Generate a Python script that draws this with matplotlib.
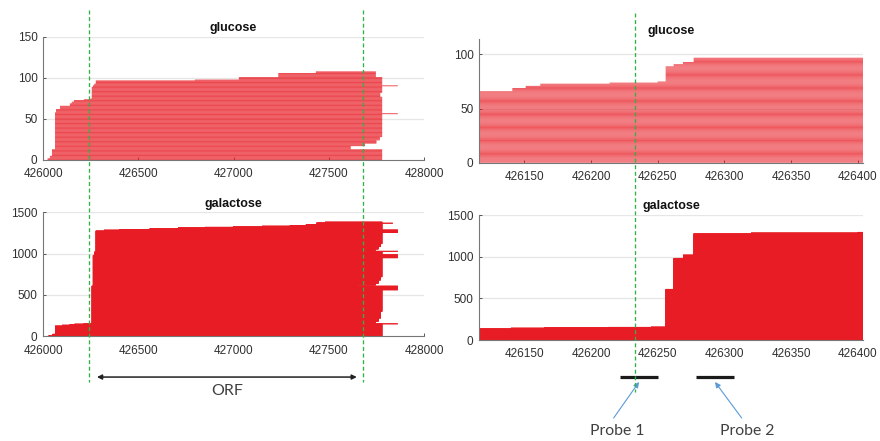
import numpy as np
import matplotlib
matplotlib.use("Agg")
import matplotlib.pyplot as plt
from matplotlib.transforms import blended_transform_factory
from matplotlib.lines import Line2D

plt.rcParams["font.family"] = ["Liberation Sans", "DejaVu Sans"]

# ---- read tracks (reads sorted by start; run-length encoded) ----
# glucose: read start coordinates and how many reads share each
glu_start_pos = [426024, 426036, 426047, 426063, 426068, 426089, 426141, 426151,
                 426162, 426214, 426250, 426256, 426262, 426269, 426277, 426797,
                 427028, 427235, 427432]
glu_start_n = [2, 3, 8, 45, 4, 4, 3, 2, 2, 1, 1, 14, 2, 2, 4, 1, 3, 5, 2]
# glucose: read end coordinates, from the bottom row upwards
glu_end_pos = [427780, 427615, 427690, 427750, 427768, 427780, 427862, 427780,
               427770, 427780, 427862, 427780, 427747]
glu_end_n = [13, 4, 3, 4, 4, 28, 1, 20, 5, 8, 1, 10, 7]

# galactose: read start coordinates and counts
gal_start_pos = [426030, 426050, 426063, 426100, 426140, 426165, 426213, 426245,
                 426256, 426262, 426269, 426277, 426320, 426400, 426560, 426709,
                 426850, 426997, 427150, 427296, 427380, 427436, 427480]
gal_start_n = [10, 15, 100, 10, 8, 5, 4, 4, 452, 372, 40, 255, 10, 7, 10, 11,
               6, 6, 8, 8, 12, 20, 9]
# galactose: read end coordinates, from the bottom row upwards
gal_end_pos = [427780, 427862, 427620, 427745, 427760, 427772, 427780, 427862,
               427650, 427745, 427760, 427772, 427780, 427862, 427780, 427862,
               427620, 427745, 427760, 427772, 427780, 427862, 427780, 427836,
               427780]
gal_end_n = [150, 3, 10, 17, 40, 80, 262, 45, 12, 21, 40, 40, 230, 36, 40, 3,
             10, 16, 30, 35, 135, 31, 80, 3, 13]

# ---- axes ticks ----
wide_xticks = [426000, 426500, 427000, 427500, 428000]
zoom_xticks = [426150, 426200, 426250, 426300, 426350, 426400]
glu_yticks = [0, 50, 100, 150]
glu_zoom_yticks = [0, 50, 100]
gal_yticks = [0, 500, 1000, 1500]

# ---- annotations ----
orf_bounds = [426241, 427679]          # dashed guides, left panels
orf_arrow = [426283, 427647]
tss_guide = 426233                     # dashed guide, right panels
probe_names = ["Probe 1", "Probe 2"]
probe_spans = [[426222, 426250], [426279, 426307]]
probe_tips = [426236, 426293]
probe_tails = [426217, 426313]
probe_label_x = [426220, 426317]

READ_RED = "#e81c24"
GUIDE_GREEN = "#2fb344"


def expand(start_pos, start_n, end_pos, end_n):
    starts = np.repeat(start_pos, start_n)
    ends = np.repeat(end_pos, end_n)
    n = min(len(starts), len(ends))
    y = np.arange(n) + 0.5
    return y, starts[:n], ends[:n]


def style(ax, xlim, xticks, ylim, yticks, title):
    ax.set_xlim(*xlim)
    ax.set_ylim(*ylim)
    ax.set_xticks(xticks)
    ax.set_xticklabels([str(t) for t in xticks])
    ax.set_yticks(yticks)
    ax.set_yticklabels([str(t) for t in yticks])
    for s in ("top", "right"):
        ax.spines[s].set_visible(False)
    for s in ("left", "bottom"):
        ax.spines[s].set_color("#777777")
        ax.spines[s].set_linewidth(0.8)
    ax.tick_params(direction="in", length=2.5, width=0.7, color="#555555",
                   labelcolor="#303030", labelsize=8.5)
    ax.tick_params(axis="x", pad=6)
    ax.tick_params(axis="y", pad=4)
    for t in yticks[1:]:
        ax.axhline(t, color="#e6e6e6", lw=0.9, zorder=0.5)
    ax.set_title(title, fontsize=9, fontweight="bold", color="#111111", pad=4)


def draw_reads(ax, y, s, e):
    lc = ax.hlines(y, s, e, colors=READ_RED, linewidth=0.72, alpha=0.74, zorder=2)
    lc.set_snap(False)


fig = plt.figure(figsize=(8.8, 4.41), dpi=100)
ax_glu = fig.add_axes([0.0489, 0.6372, 0.4330, 0.2789])
ax_gal = fig.add_axes([0.0489, 0.2374, 0.4330, 0.2812])
ax_glu_z = fig.add_axes([0.5443, 0.6311, 0.4364, 0.2798])
ax_gal_z = fig.add_axes([0.5443, 0.2290, 0.4364, 0.2834])

glu = expand(glu_start_pos, glu_start_n, glu_end_pos, glu_end_n)
gal = expand(gal_start_pos, gal_start_n, gal_end_pos, gal_end_n)

for ax in (ax_glu, ax_glu_z):
    draw_reads(ax, *glu)
for ax in (ax_gal, ax_gal_z):
    draw_reads(ax, *gal)

style(ax_glu, (426000, 428000), wide_xticks, (0, 150), glu_yticks, "glucose")
style(ax_gal, (426000, 428000), wide_xticks, (0, 1500), gal_yticks, "galactose")
style(ax_glu_z, (426116, 426404), zoom_xticks, (0, 114), glu_zoom_yticks, "glucose")
style(ax_gal_z, (426116, 426404), zoom_xticks, (0, 1500), gal_yticks, "galactose")

# dashed guides spanning the stacked panels
dash = (0, (3, 2))
tr_left = blended_transform_factory(ax_glu.transData, fig.transFigure)
for x in orf_bounds:
    fig.add_artist(Line2D([x, x], [0.977, 0.134], transform=tr_left,
                          color=GUIDE_GREEN, lw=0.95, ls=dash, zorder=5))
tr_right = blended_transform_factory(ax_glu_z.transData, fig.transFigure)
fig.add_artist(Line2D([tss_guide, tss_guide], [0.9705, 0.111], transform=tr_right,
                      color=GUIDE_GREEN, lw=0.95, ls=dash, zorder=5))

# ORF span arrow
ax_gal.annotate("", xy=(orf_arrow[0], 0.145), xytext=(orf_arrow[1], 0.145),
                xycoords=("data", "figure fraction"),
                textcoords=("data", "figure fraction"),
                arrowprops=dict(arrowstyle="<|-|>", color="#222222", lw=1.1,
                                mutation_scale=7, shrinkA=0, shrinkB=0),
                annotation_clip=False)
ax_gal.text(sum(orf_arrow) / 2, 0.1134, "ORF", transform=tr_left,
            ha="center", va="center", fontsize=11.5, family=["Lato", "DejaVu Sans"],
            color="#404040")

# probes below the zoomed galactose panel
tr_rb = blended_transform_factory(ax_gal_z.transData, fig.transFigure)
for name, span, tip, tail, lx in zip(probe_names, probe_spans, probe_tips,
                                     probe_tails, probe_label_x):
    fig.add_artist(Line2D(span, [0.145, 0.145], transform=tr_rb,
                          color="#1a1a1a", lw=2.3, solid_capstyle="butt"))
    ax_gal_z.annotate("", xy=(tip, 0.1338), xytext=(tail, 0.0522),
                      xycoords=("data", "figure fraction"),
                      textcoords=("data", "figure fraction"),
                      arrowprops=dict(arrowstyle="-|>", color="#5b9bd5", lw=0.8,
                                      mutation_scale=8, shrinkA=0, shrinkB=0),
                      annotation_clip=False)
    ax_gal_z.text(lx, 0.0227, name, transform=tr_rb, ha="center", va="center",
                  fontsize=11.3, family=["Lato", "DejaVu Sans"], color="#404040")

fig.savefig("out.png", dpi=100, facecolor="white")
